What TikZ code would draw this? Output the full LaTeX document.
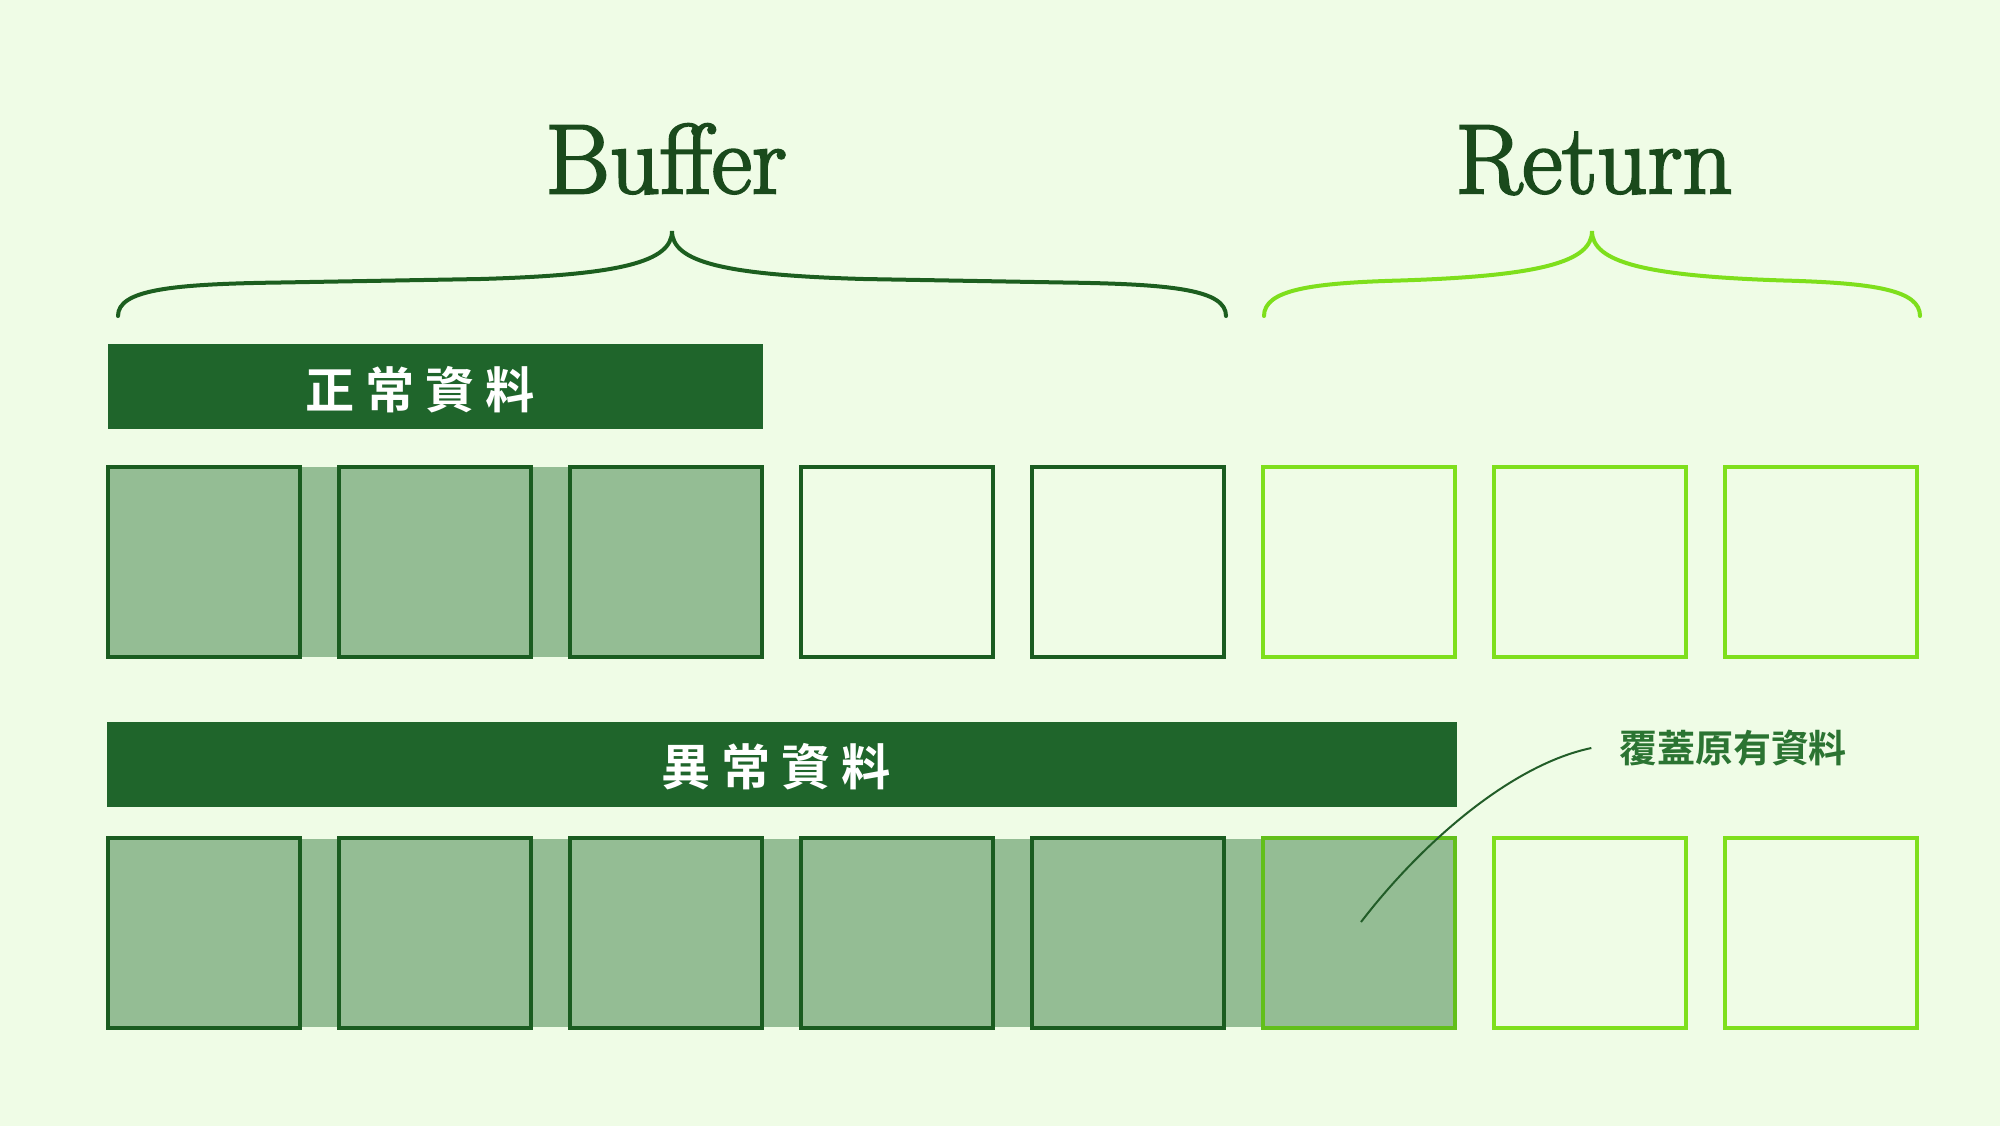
\documentclass[tikz,border=0pt]{standalone}
\usepackage{fontspec}
\newfontfamily\titlefont{Latin Modern Roman}[FakeBold=2.5]
\newfontfamily\cjkbold{Noto Sans CJK TC Bold}
\newfontfamily\cjkwide{Noto Sans CJK TC Bold}[LetterSpace=22]
\usetikzlibrary{positioning}
\definecolor{bgmint}{HTML}{EFFCE6}
\definecolor{bardark}{HTML}{1F652B}
\definecolor{celldark}{HTML}{1A5C20}
\definecolor{celllight}{HTML}{7EDF1C}
\definecolor{cellmid}{HTML}{62BF1A}
\definecolor{cellfill}{HTML}{94BD94}
\definecolor{titledark}{HTML}{1A4A1C}
\definecolor{bracedark}{HTML}{1C5E1F}
\definecolor{notegreen}{HTML}{2B7432}

\begin{document}
\begin{tikzpicture}[x=0.01cm, y=-0.01cm,
  cell/.style={draw, line width=0.04cm, minimum width=1.92cm, minimum height=1.9cm, inner sep=0pt},
  bufcell/.style={cell, draw=celldark},
  retcell/.style={cell, draw=celllight},
  bar/.style={fill=bardark, minimum width=#1, minimum height=0.85cm, inner sep=0pt},
  bartext/.style={text=white, font=\cjkwide\fontsize{14pt}{16pt}\selectfont},
  title/.style={text=titledark, font=\titlefont\fontsize{28pt}{32pt}\selectfont, anchor=base},
  note/.style={text=notegreen, font=\cjkbold\fontsize{10.8pt}{13pt}\selectfont, inner xsep=0.27cm}]
\fill[bgmint] (0,0) rectangle (2000,1126);
\useasboundingbox (0,0) rectangle (2000,1126);

\node[title] (buffer) at (666,193) {Buffer};
\node[title] (return) at (1594,193) {Return};

% braces
\draw[bracedark, line width=0.04cm, line cap=round] (118,316) .. controls (118,290) and (170,284) .. (280,282.5) -- (480,279)
  .. controls (620,275) and (672,262) .. (672,231) .. controls (672,262) and (724,275) .. (864,279) -- (1064,282.5)
  .. controls (1174,284) and (1226,290) .. (1226,316);
\draw[celllight, line width=0.04cm, line cap=round] (1264,316) .. controls (1264,290) and (1310,283) .. (1400,280.5)
  .. controls (1540,276) and (1592,262) .. (1592,231) .. controls (1592,262) and (1644,276) .. (1784,280.5)
  .. controls (1874,283) and (1920,290) .. (1920,316);

\node[bar=6.55cm] (normalbar) at (435.5,386.5) {};
\node[bartext] (normaltext) at (420,390) {正常資料};
\node[bar=13.5cm] (errorbar) at (782,764.5) {};
\node[bartext] (errortext) at (776,767) {異常資料};

\fill[cellfill] (108,467) rectangle (762,657);
\fill[cellfill] (108,839) rectangle (1455,1027);

\foreach \i in {0,...,4} \node[bufcell] (top\i) at (204+231*\i,562) {};
\foreach \i in {5,6,7} \node[retcell] (top\i) at (204+231*\i,562) {};
\foreach \i in {0,...,4} \node[bufcell] (low\i) at (204+231*\i,933) {};
\node[retcell, draw=cellmid] (low5) at (1359,933) {};
\foreach \i in {6,7} \node[retcell] (low\i) at (204+231*\i,933) {};

\node[note] (overwrite) at (1733,748) {覆蓋原有資料};
\coordinate (hit) at (1361,922);
\draw[notegreen!80!black, line width=0.02cm] (overwrite.west) .. controls (1510,765) and (1420,845) .. (hit);
\end{tikzpicture}
\end{document}
